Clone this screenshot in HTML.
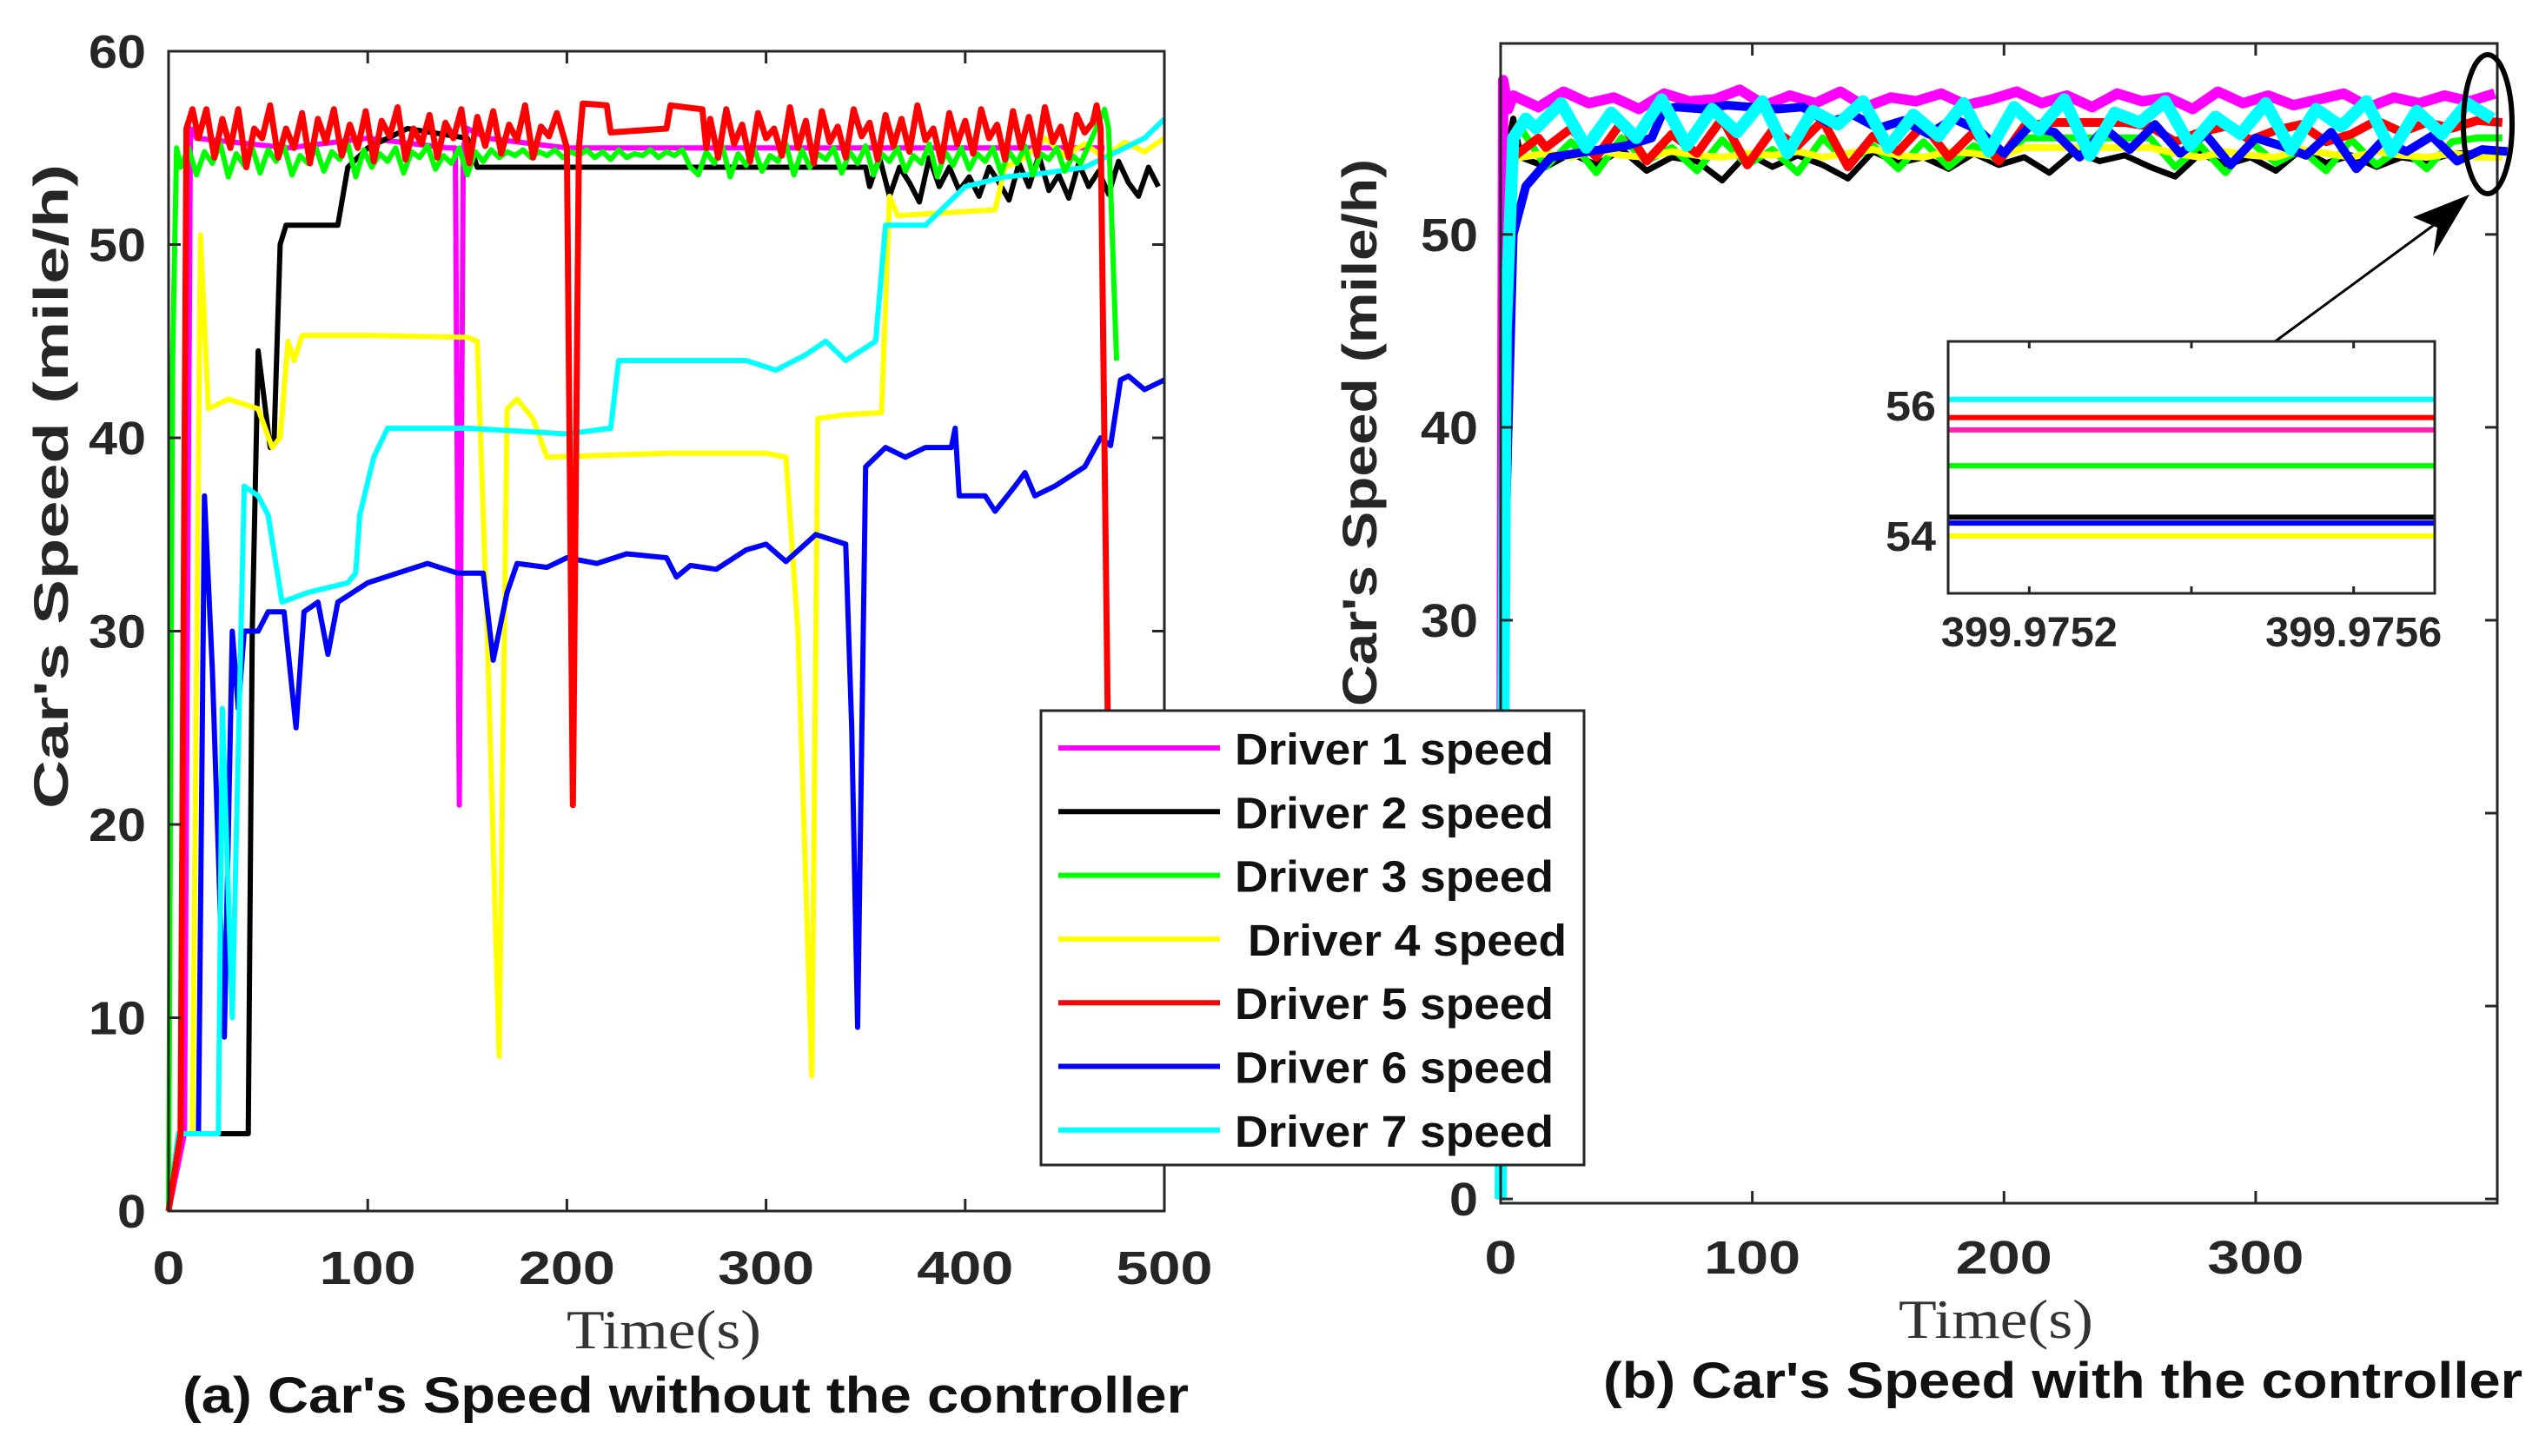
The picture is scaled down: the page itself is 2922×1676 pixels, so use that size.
<!DOCTYPE html>
<html><head><meta charset="utf-8">
<style>
html,body{margin:0;padding:0;background:#fff;}
svg{display:block;}
.sans{font-family:"Liberation Sans",sans-serif;}
.serif{font-family:"Liberation Serif",serif;}
</style></head>
<body>
<svg id="fig" width="2922" height="1676" viewBox="0 0 2922 1676" xmlns="http://www.w3.org/2000/svg">
  <rect x="0" y="0" width="2922" height="1676" fill="#fff"/>
  <g id="chartA"></g>
  <g id="chartB"></g>
  <g id="inset"></g>
  <g id="legend"></g>
  <text class="serif" x="764" y="1552" font-size="64" fill="#333" text-anchor="middle" textLength="224" lengthAdjust="spacingAndGlyphs">Time(s)</text>
  <text class="serif" x="2297" y="1540" font-size="64" fill="#333" text-anchor="middle" textLength="224" lengthAdjust="spacingAndGlyphs">Time(s)</text>
  <text class="sans" x="789" y="1626" font-size="58" font-weight="bold" fill="#111" text-anchor="middle" textLength="1158" lengthAdjust="spacingAndGlyphs">(a) Car's Speed without the controller</text>
  <text class="sans" x="2374" y="1609" font-size="58" font-weight="bold" fill="#111" text-anchor="middle" textLength="1058" lengthAdjust="spacingAndGlyphs">(b) Car's Speed with the controller</text>
  <text class="sans" transform="translate(78,560) rotate(-90)" font-size="56" font-weight="bold" fill="#262626" text-anchor="middle" textLength="742" lengthAdjust="spacingAndGlyphs">Car's Speed (mile/h)</text>
  <text class="sans" transform="translate(1584,498) rotate(-90)" font-size="56" font-weight="bold" fill="#262626" text-anchor="middle" textLength="630" lengthAdjust="spacingAndGlyphs">Car's Speed (mile/h)</text>
</svg>
<script>
const NS="http://www.w3.org/2000/svg";
const colors=["#ff00ff","#000000","#00ff00","#ffff00","#ff0000","#0000ff","#00ffff"];
const driverNames=["Driver 1 speed","Driver 2 speed","Driver 3 speed","Driver 4 speed","Driver 5 speed","Driver 6 speed","Driver 7 speed"];
const ticksAx=[0,100,200,300,400,500];
const ticksAy=[0,10,20,30,40,50,60];
const ticksBx=[0,100,200,300];
const ticksBy=[0,10,20,30,40,50];
const insetTickLabels=["399.9752","399.9756"];
const insetTicksY=[54,56];
const insetValues=[55.63,54.29,55.08,54.0,55.82,54.2,56.1];

// ---------- Chart (a) data: [time, speed] ----------
const a1=[[0,0],[8,4],[11,56],[14,55.5],[60,55],[100,55.5],[140,55],[144,55],[146,21],[148,55],[150,56],[160,55.5],[200,55],[300,55],[400,55],[470,55]];
const a2=[[0,0],[5,4],[40,4],[42,30],[45,44.5],[48,42],[51,39.5],[53,40],[56,50],[59,51],[85,51],[90,54],[100,55],[120,56],[150,55.5],[155,54],[200,54],[300,54],[350,54]];
const a2n=[352,5,[53,54.5,52.5,54,53.2,52.2,54.5,53,54,52.8,53.5,52.5,54,53.2,52.3,54.2,53,54.6,52.8,53.6,52.4,54.2,53,53.8,52.6,54.3,53.2,52.5,54,53]];
const a3=[[0,0],[2,44],[4,55]];
const a3n=[6,4,[54,55,53.6,54.8,54.2,55.2,53.5,54.7,54.1,55,53.7,54.9,54.3,55.1,53.6,54.6,54.2,55,53.8,54.8,54.4,55.2,53.5,54.9,54,54.7,54.3,55,53.7,54.8,54.5,55.1,53.9,54.6,54.2,55,53.6,54.8,54.3,54.9,54.5,54.8,54.6,54.9,54.5,54.8,54.6,54.9,54.5,54.8,54.6,54.9,54.5,54.8,54.4,54.9,54.5,54.7,54.6,54.9,54.5,54.8,54.6,54.9,54,53.6,54.8,54.2,55.1,53.5,54.7,54.1,55,53.8,54.6,54.3,55.2,53.6,54.9,54,54.7,54.4,55,53.7,54.8,54.2,55.1,53.6,54.7,54.3,55,53.8,54.6,54.2,55.2,53.5,54.8,54.1,55,53.9,54.7,54.3,55,53.7,54.8,54.2,55.1,53.6,54.7,54.4,55,53.8,54.6,54.2]];
const a3e=[[470,57],[472,56],[476,44]];
const a4=[[0,0],[5,4],[12,4],[16,50.5],[20,41.5],[30,42],[45,41.5],[52,39.5],[56,40],[60,45],[63,44],[67,45.3],[100,45.3],[150,45.2],[155,45],[160,30],[166,8],[170,41.5],[175,42],[183,41],[190,39],[250,39.2],[300,39.2],[310,39],[316,30],[323,7],[326,41],[340,41.2],[358,41.3],[362,52.5],[366,51.5],[415,51.8],[420,54],[430,54.5],[440,55.5],[450,54.6],[460,55.2],[470,54.5],[480,55.3],[490,54.8],[500,55.5]];
const a5=[[0,0],[6,4],[9,56],[12,57]];
const a5n1=[15,4,[55.5,57,54.5,56.5,55,57,54,56,55.5,57.2,54.5,56,55,56.8,54.2,56.5,55.3,57,54.6,56.2,55,56.9,54.3,56.4,55.6,57.1,54.4,56,55.2,56.7,54.5,56.3,55.5,57,54.2,56.6,55.1,56.9,54.7,56.2,55.4,57.2,54.5,56.1,55.6,56.8]];
const a5m=[[200,55],[203,21],[206,55],[208,57.3],[220,57.2],[222,55.8],[250,56],[252,57.2],[268,57],[270,55]];
const a5n2=[272,4,[56.5,54.5,57,55.2,56.2,54.3,56.8,55.5,56,54.6,57.1,55,56.4,54.2,56.9,55.3,56.1,54.5,57,55.6,56.3,54.4,56.7,55.1,56.5,54.8,57.2,55.4,56,54.3,56.8,55.2,56.4,54.7,57,55.5,56.2,54.4,56.9,55,56.6,54.6,57.1,55.3,56.1,54.5,56.7,55.8,56.3]];
const a5e=[[466,57.2],[468,56],[472,22]];
const a6=[[0,0],[5,4],[15,4],[18,37],[22,28],[28,9],[32,30],[35,26],[38,30],[45,30],[50,31],[58,31],[64,25],[68,31],[75,31.5],[80,28.8],[85,31.5],[100,32.5],[115,33],[130,33.5],[145,33],[158,33],[163,28.5],[170,32],[175,33.5],[190,33.3],[200,33.8],[215,33.5],[230,34],[250,33.8],[255,32.8],[262,33.4],[275,33.2],[290,34.2],[300,34.5],[310,33.6],[325,35],[340,34.5],[343,25],[346,9.5],[350,38.5],[360,39.5],[370,39],[380,39.5],[393,39.5],[395,40.5],[397,37],[410,37],[415,36.2],[425,37.5],[430,38.2],[435,37],[445,37.5],[460,38.5],[468,40],[473,39.6],[478,43],[482,43.2],[490,42.5],[500,43]];
const a7=[[0,0],[5,4],[25,4],[27,26],[32,10],[38,37.5],[45,37],[50,36],[57,31.5],[70,32],[90,32.5],[94,33],[96,36],[103,39],[110,40.5],[150,40.5],[200,40.2],[222,40.5],[226,44],[260,44],[290,44],[305,43.5],[320,44.3],[330,45],[340,44],[355,45],[360,51],[380,51],[400,53],[420,53.5],[440,53.7],[460,54],[480,55],[490,55.5],[500,56.5]];

// ---------- Chart (b) data ----------
const b1s=[[0,0],[1,58],[3,56.5]];
const b1n=[5,10,[57.2,56.6,57.4,56.8,57.1,56.5,57.3,56.9,57,57.5,56.7,57.2,56.8,57.4,56.6,57.1,56.9,57.3,56.7,57,57.4,56.8,57.2,56.6,57.3,56.9,57.1,56.5,57.4,56.8,57.2,56.7,57,57.3,56.6,57.1,56.8,57.2,56.9,57.3]];
const b2s=[[0,0],[2,54],[5,56]];
const b2n=[8,10,[54,53.5,54.2,53.6,54.4,53.3,54,53.8,52.8,54.2,53.5,54.1,53.6,52.9,54.3,53.7,54,53.4,54.2,53.6,54,53.2,54.3,53.8,54.1,53.5,53,54.2,53.6,54,53.3,54.4,53.7,54.1,53.5,54,53.8,54.2,54.2,54.3]];
const b3s=[[0,0],[2,53],[5,55]];
const b3n=[8,10,[55.5,53.5,54.8,53.2,55,53.8,54.5,53.3,54.9,53.6,54.4,53.2,55,53.7,54.6,53.4,54.8,53.5,54.6,53.8,55,55,55,55,55,55,53.5,54.6,53.2,54.8,53.7,54.4,53.3,54.9,53.6,54.5,53.4,54.8,55,55]];
const b4s=[[0,0],[2,52],[5,54]];
const b4n=[8,10,[54,54.2,54,54.4,54.1,54,54.3,54.1,54,54.2,54.1,54.3,54,54.2,54.4,54.1,54,54.3,54.2,54,54.5,54.5,54.5,54.5,54.5,54.5,54.2,54,54.3,54.1,54,54.4,54.2,54,54.3,54.1,54,54.2,54,54]];
const b5s=[[0,0],[2,52],[5,54],[15,55]];
const b5n=[18,10,[54.5,55.5,54,55.8,53.8,55.2,54.2,56,53.6,55.4,54.6,55.9,53.5,55.1,54.3,55.7,54,55.3,53.8,55.6,55.8,55.8,55.8,55.8,55.6,54.8,55.3,55.6,54.9,55.4,55.7,54.8,55.2,55.9,55.3,55.8,55.5,55.9,55.8]];
const b6s=[[0,0],[2,35],[5,50],[10,52.5],[20,54],[30,54.2],[50,54.6],[60,55],[65,56.5]];
const b6n=[70,10,[56.6,56.5,56.7,56.6,56.5,56.6,55.8,56.2,55.5,55.9,55.2,56,55.4,54.2,55.6,55.3,54,55.5,54.4,55.7,54.2,55.2,53.6,55,54.6,54.1,55.3,53.4,54.8,54.3,55.1,53.8,54.4,54.3]];
const b7s=[[0,0],[2,45],[5,55],[10,56]];
const b7n=[14,10,[55.5,56.8,54.5,56.3,55,57,54.6,56.5,55.3,56.9,54.2,56.4,55.7,56.9,54.5,56.2,55.1,56.8,54.3,56.6,55.4,57,54.1,56.3,55.8,56.9,54.6,56.1,55.2,56.8,54.4,56.5,55.6,56.9,54.3,56.4,55.2,56.8,56]];

// ---------- helpers ----------
function noisy(seg){const out=[];const t0=seg[0],dt=seg[1],vals=seg[2];for(let i=0;i<vals.length;i++)out.push([t0+i*dt,vals[i]]);return out;}
const AX={l:194,r:1340,t:59,b:1394,x0:0,x1:500,y0:0,y1:60};
const BX={l:1727,r:2874,t:50,b:1385,x0:0,x1:396,y0:-0.22,y1:59.9};
function sx(ax,v){return ax.l+(v-ax.x0)/(ax.x1-ax.x0)*(ax.r-ax.l);}
function sy(ax,v){return ax.b-(v-ax.y0)/(ax.y1-ax.y0)*(ax.b-ax.t);}
function mk(tag,attrs,parent){const e=document.createElementNS(NS,tag);for(const k in attrs)e.setAttribute(k,attrs[k]);parent.appendChild(e);return e;}

function drawSeries(g,ax,pts,color,w,name){
  const d=pts.map((p,i)=>(i?"L":"M")+sx(ax,p[0]).toFixed(1)+" "+sy(ax,p[1]).toFixed(1)).join(" ");
  const p=mk("path",{d:d,fill:"none",stroke:color,"stroke-width":w,"stroke-linejoin":"round"},g);
  
  
}
function drawAxes(g,ax,xt,yt,xlY){
  const box=mk("rect",{x:ax.l,y:ax.t,width:ax.r-ax.l,height:ax.b-ax.t,fill:"none",stroke:"#262626","stroke-width":3},g);
  
  
  xt.forEach(v=>{
    const x=sx(ax,v);
    mk("line",{x1:x,y1:ax.b,x2:x,y2:ax.b-14,stroke:"#262626","stroke-width":3},g);
    mk("line",{x1:x,y1:ax.t,x2:x,y2:ax.t+14,stroke:"#262626","stroke-width":3},g);
    const s=String(v);
    const t=mk("text",{"class":"sans",x:x,y:xlY,"font-size":54,"font-weight":"bold",fill:"#262626","text-anchor":"middle",textLength:s.length*37,lengthAdjust:"spacingAndGlyphs"},g);
    t.textContent=s;
    
    
  });
  yt.forEach(v=>{
    const y=sy(ax,v);
    mk("line",{x1:ax.l,y1:y,x2:ax.l+14,y2:y,stroke:"#262626","stroke-width":3},g);
    mk("line",{x1:ax.r,y1:y,x2:ax.r-14,y2:y,stroke:"#262626","stroke-width":3},g);
    const s=String(v);
    const t=mk("text",{"class":"sans",x:ax.l-26,y:y+19,"font-size":54,"font-weight":"bold",fill:"#262626","text-anchor":"end",textLength:s.length*33,lengthAdjust:"spacingAndGlyphs"},g);
    t.textContent=s;
    
    
  });
}

// chart a
const gA=document.getElementById("chartA");
drawSeries(gA,AX,a1,colors[0],6,"driver1-line-a");
drawSeries(gA,AX,a2.concat(noisy(a2n)),colors[1],6,"driver2-line-a");
drawSeries(gA,AX,a4,colors[3],6,"driver4-line-a");
drawSeries(gA,AX,a6,colors[5],6,"driver6-line-a");
drawSeries(gA,AX,a7,colors[6],6,"driver7-line-a");
drawSeries(gA,AX,a3.concat(noisy(a3n)).concat(a3e),colors[2],6,"driver3-line-a");
drawSeries(gA,AX,a5.concat(noisy(a5n1)).concat(a5m).concat(noisy(a5n2)).concat(a5e),colors[4],7,"driver5-line-a");
drawAxes(gA,AX,ticksAx,ticksAy,1478);

// chart b
const gB=document.getElementById("chartB");
drawSeries(gB,BX,b2s.concat(noisy(b2n)),colors[1],7,"driver2-line-b");
drawSeries(gB,BX,b3s.concat(noisy(b3n)),colors[2],8,"driver3-line-b");
drawSeries(gB,BX,b4s.concat(noisy(b4n)),colors[3],8,"driver4-line-b");
drawSeries(gB,BX,b5s.concat(noisy(b5n)),colors[4],10,"driver5-line-b");
drawSeries(gB,BX,b1s.concat(noisy(b1n)),colors[0],12,"driver1-line-b");
drawSeries(gB,BX,b6s.concat(noisy(b6n)),colors[5],10,"driver6-line-b");
drawSeries(gB,BX,b7s.concat(noisy(b7n)),colors[6],14,"driver7-line-b");
drawAxes(gB,BX,ticksBx,ticksBy,1466);

// annotation ellipse and arrow
const ell=mk("ellipse",{cx:2863,cy:143,rx:28,ry:80,fill:"none",stroke:"#000","stroke-width":6},gB);


const arr=mk("line",{x1:2617,y1:394,x2:2820,y2:245,stroke:"#000","stroke-width":3},gB);


const head=mk("polygon",{points:"2842,224 2777,250 2805,262 2800,295",fill:"#000"},gB);



// inset
const gI=document.getElementById("inset");
const IX={l:2242,r:2802,t:393,b:683,x0:399.97510,x1:399.97570,y0:53.12,y1:56.99};
const ibg=mk("rect",{x:IX.l,y:IX.t,width:IX.r-IX.l,height:IX.b-IX.t,fill:"#fff"},gI);


insetValues.forEach((v,i)=>{
  const y=sy(IX,v);
  const l=mk("line",{x1:IX.l,y1:y,x2:IX.r,y2:y,stroke:i===0?"#ff22aa":colors[i],"stroke-width":6},gI);
  
  
});
const ibox=mk("rect",{x:IX.l,y:IX.t,width:IX.r-IX.l,height:IX.b-IX.t,fill:"none",stroke:"#262626","stroke-width":3},gI);


[399.9752,399.9754,399.9756].forEach(v=>{
  const x=sx(IX,v);
  mk("line",{x1:x,y1:IX.b,x2:x,y2:IX.b-8,stroke:"#262626","stroke-width":3},gI);
  mk("line",{x1:x,y1:IX.t,x2:x,y2:IX.t+8,stroke:"#262626","stroke-width":3},gI);
});
insetTickLabels.forEach(s=>{
  const t=mk("text",{"class":"sans",x:sx(IX,parseFloat(s)),y:744,"font-size":48,"font-weight":"bold",fill:"#262626","text-anchor":"middle",textLength:203,lengthAdjust:"spacingAndGlyphs"},gI);
  t.textContent=s;
  
  
});
insetTicksY.forEach(v=>{
  const t=mk("text",{"class":"sans",x:IX.l-14,y:sy(IX,v)+17,"font-size":48,"font-weight":"bold",fill:"#262626","text-anchor":"end",textLength:58,lengthAdjust:"spacingAndGlyphs"},gI);
  t.textContent=v;
  
  
});

// legend
const gL=document.getElementById("legend");
const lb=mk("rect",{x:1198,y:818,width:625,height:523,fill:"#fff",stroke:"#262626","stroke-width":3},gL);


driverNames.forEach((n,i)=>{
  const y=861+i*73.3;
  const l=mk("line",{x1:1218,y1:y,x2:1404,y2:y,stroke:colors[i],"stroke-width":6},gL);
  
  
  const t=mk("text",{"class":"sans",x:i===3?1436:1421,y:y+19,"font-size":51,"font-weight":"bold",fill:"#111",textLength:367,lengthAdjust:"spacingAndGlyphs"},gL);
  t.textContent=n;
  
  
});
</script>
</body></html>
